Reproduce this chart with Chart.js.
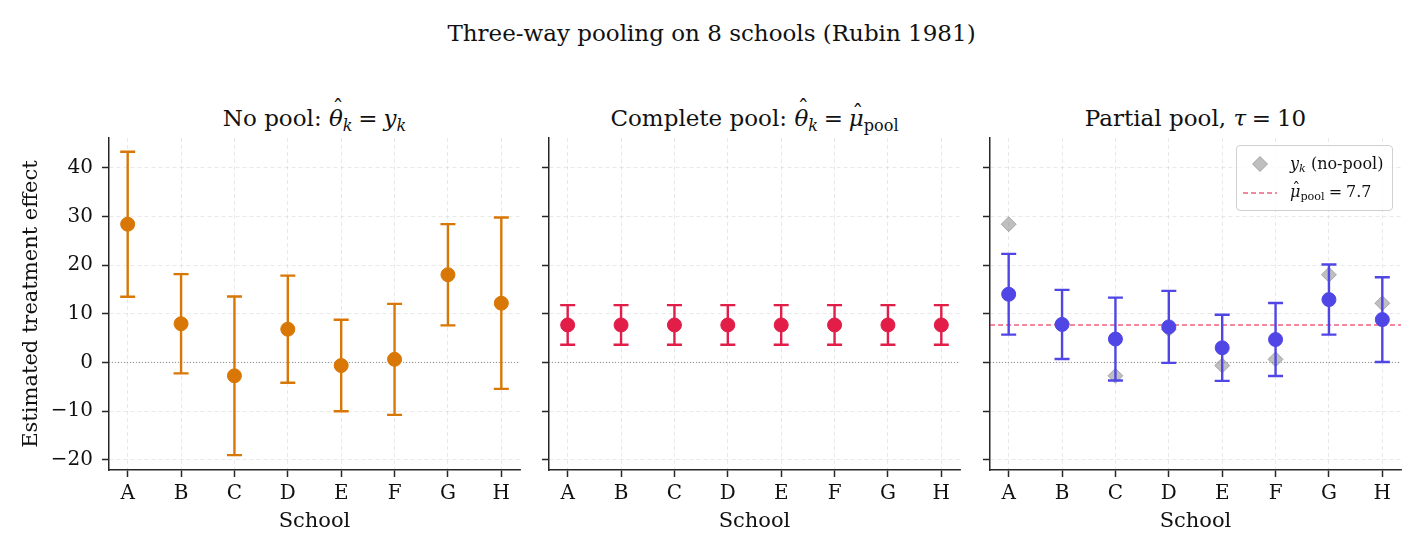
<!DOCTYPE html>
<html>
<head>
<meta charset="utf-8">
<script src="https://cdn.jsdelivr.net/npm/chart.js@4.4.1/dist/chart.umd.min.js"></script>
<style>
  body { margin: 0; background: #fff; }
  #fig { position: relative; width: 1423px; height: 554px; background: #fff; font-family: "DejaVu Serif", serif; color: #111; }
  .panel { position: absolute; top: 0; height: 554px; }
  .sup { position: absolute; left: 0; width: 1423px; top: 21px; line-height: 24px; text-align: center; font-size: 23px; }
  .ttl { position: absolute; top: 106px; line-height: 24px; text-align: center; font-size: 23px; white-space: nowrap; }
  sub { font-size: 0.7em; vertical-align: -0.3em; line-height: 0; }
  .hat { position: relative; display: inline-block; }
  .hat::after { content: "\02C6"; position: absolute; left: 0.14em; top: -0.42em; font-style: normal; }
  .hat.low::after { top: -0.2em; left: 0.14em; }
  .legend { position: absolute; left: 1236px; top: 145px; width: 155px; height: 64px; border: 1px solid #d0d0d0; border-radius: 4px; background: rgba(255,255,255,0.8); font-size: 16px; z-index: 5; }
  .legend .item { position: absolute; left: 53px; line-height: 20px; white-space: nowrap; }
  .legend .dia { position: absolute; left: 15px; top: 10px; width: 16px; height: 16px; }
  .legend .dash { position: absolute; left: 6px; top: 45px; width: 34px; height: 4px; }
</style>
</head>
<body>
<div id="fig">
  <div class="sup">Three-way pooling on 8 schools (Rubin 1981)</div>
  <div class="ttl" style="left:109px;width:411px">No pool: <i class="hat">θ</i><sub><i>k</i></sub>&#8197;=&#8197;<i>y</i><sub><i>k</i></sub></div>
  <div class="ttl" style="left:549px;width:411px">Complete pool: <i class="hat">θ</i><sub><i>k</i></sub>&#8197;=&#8197;<i class="hat low">μ</i><sub>pool</sub></div>
  <div class="ttl" style="left:990px;width:411px">Partial pool, <i>τ</i>&#8197;=&#8197;10</div>
  <div class="panel" style="left:0;width:530px"><canvas id="c1"></canvas></div>
  <div class="panel" style="left:530px;width:440px"><canvas id="c2"></canvas></div>
  <div class="panel" style="left:970px;width:441px"><canvas id="c3"></canvas></div>
  <div class="legend">
    <svg class="dia" viewBox="0 0 16 16"><path d="M8 0.5 L15.5 8 L8 15.5 L0.5 8 Z" fill="rgba(128,128,128,0.5)" stroke="rgba(128,128,128,0.6)" stroke-width="1"/></svg>
    <div class="item" style="top:8px"><i>y</i><sub><i>k</i></sub> (no-pool)</div>
    <svg class="dash" viewBox="0 0 34 4"><line x1="0" y1="2" x2="34" y2="2" stroke="rgba(225,29,72,0.7)" stroke-width="1.6" stroke-dasharray="5,3"/></svg>
    <div class="item" style="top:36px"><i class="hat low">μ</i><sub>pool</sub>&#8197;=&#8197;7.7</div>
  </div>
</div>

<script>
// eight schools data
const schools = ["A", "B", "C", "D", "E", "F", "G", "H"];
const yObs = [28.39, 7.94, -2.75, 6.82, -0.64, 0.63, 18.01, 12.16];
const sigmaObs = [14.9, 10.2, 16.3, 11.0, 9.4, 11.4, 10.4, 17.6];
const muPool = 7.69;
const muPoolSe = 4.07;
const partialMean = [14.0, 7.8, 4.8, 7.3, 3.0, 4.7, 12.9, 8.8];
const partialSe = [8.3, 7.1, 8.5, 7.4, 6.8, 7.5, 7.2, 8.7];
const yTicks = [-20, -10, 0, 10, 20, 30, 40];

const ORANGE = "#d97706";
const RED = "#e11d48";
const BLUE = "#4f46e5";

Chart.defaults.font.family = "'DejaVu Serif', serif";
Chart.defaults.color = "#111";

function pts(values) {
    return schools.map(function (s, i) {
        return { x: i, y: values[i] };
    });
}

// vertical error bars with caps, drawn just before the dataset's markers
const errorBars = {
    id: "errorBars",
    beforeDatasetDraw: function (chart, args) {
        const ds = chart.data.datasets[args.index];
        if (!ds.errors) return;
        const xs = chart.scales.x;
        const ys = chart.scales.y;
        const ctx = chart.ctx;
        ctx.save();
        ctx.strokeStyle = ds.borderColor;
        ctx.lineWidth = 2.4;
        ds.data.forEach(function (p, i) {
            const x = xs.getPixelForValue(p.x);
            const top = ys.getPixelForValue(p.y + ds.errors[i]);
            const bot = ys.getPixelForValue(p.y - ds.errors[i]);
            ctx.beginPath();
            ctx.moveTo(x, top);
            ctx.lineTo(x, bot);
            ctx.moveTo(x - 7.5, top);
            ctx.lineTo(x + 7.5, top);
            ctx.moveTo(x - 7.5, bot);
            ctx.lineTo(x + 7.5, bot);
            ctx.stroke();
        });
        ctx.restore();
    },
};

// horizontal reference lines (zero line, pooled mean)
const refLines = {
    id: "refLines",
    beforeDatasetsDraw: function (chart, args, opts) {
        const area = chart.chartArea;
        const ys = chart.scales.y;
        const ctx = chart.ctx;
        (opts.lines || []).forEach(function (l) {
            const y = ys.getPixelForValue(l.value);
            ctx.save();
            ctx.strokeStyle = l.color;
            ctx.lineWidth = l.width;
            ctx.setLineDash(l.dash);
            ctx.beginPath();
            ctx.moveTo(area.left, y);
            ctx.lineTo(area.right, y);
            ctx.stroke();
            ctx.restore();
        });
    },
};

function makePanel(id, datasets, lines, yAxisWidth, showYLabels) {
    const ctx = document.getElementById(id).getContext("2d");
    return new Chart(ctx, {
        type: "scatter",
        data: { datasets: datasets },
        options: {
            responsive: true,
            maintainAspectRatio: false,
            animation: false,
            layout: { padding: { top: 138, right: 10, bottom: 0, left: 0 } },
            plugins: {
                legend: { display: false },
                tooltip: { enabled: false },
                refLines: { lines: lines },
            },
            scales: {
                x: {
                    type: "linear",
                    min: -0.35,
                    max: 7.35,
                    afterBuildTicks: function (axis) {
                        axis.ticks = schools.map(function (s, i) { return { value: i }; });
                    },
                    afterFit: function (axis) { axis.height = 84; },
                    ticks: {
                        autoSkip: false,
                        maxRotation: 0,
                        padding: 5,
                        font: { size: 20 },
                        color: "#111",
                        callback: function (v) { return schools[v]; },
                    },
                    grid: { color: "rgba(176,176,176,0.35)", lineWidth: 0.8, tickColor: "#262626", tickLength: 7, tickWidth: 1.5 },
                    border: { color: "#262626", width: 1.5, dash: [4, 3] },
                    title: { display: true, text: "School", font: { size: 21 }, color: "#111", padding: { top: 0, bottom: 20 } },
                },
                y: {
                    min: -22.1,
                    max: 46.1,
                    afterBuildTicks: function (axis) {
                        axis.ticks = yTicks.map(function (v) { return { value: v }; });
                    },
                    afterFit: function (axis) { axis.width = yAxisWidth; },
                    ticks: {
                        display: showYLabels,
                        padding: 9,
                        font: { size: 20 },
                        color: "#111",
                        callback: function (v) { return v < 0 ? "\u2212" + Math.abs(v) : String(v); },
                    },
                    grid: { color: "rgba(176,176,176,0.35)", lineWidth: 0.8, tickColor: "#262626", tickLength: 7, tickWidth: 1.5 },
                    border: { color: "#262626", width: 1.5, dash: [4, 3] },
                    title: { display: showYLabels, text: "Estimated treatment effect", font: { size: 21 }, color: "#111", padding: { top: 19, bottom: 0 } },
                },
            },
        },
        plugins: [errorBars, refLines],
    });
}

const zeroLine = { value: 0, color: "rgba(90,90,90,0.8)", width: 0.8, dash: [1, 2] };

makePanel("c1", [
    {
        label: "No pool",
        data: pts(yObs),
        errors: sigmaObs,
        backgroundColor: ORANGE,
        borderColor: ORANGE,
        pointRadius: 7,
        borderWidth: 1,
    },
], [zeroLine], 109, true);

makePanel("c2", [
    {
        label: "Complete pool",
        data: pts(schools.map(function () { return muPool; })),
        errors: schools.map(function () { return muPoolSe; }),
        backgroundColor: RED,
        borderColor: RED,
        pointRadius: 7,
        borderWidth: 1,
    },
], [zeroLine], 19, false);

makePanel("c3", [
    {
        label: "Partial pool",
        data: pts(partialMean),
        errors: partialSe,
        backgroundColor: BLUE,
        borderColor: BLUE,
        pointRadius: 7,
        borderWidth: 1,
        order: 1,
    },
    {
        label: "y_k (no-pool)",
        data: pts(yObs),
        pointStyle: "rectRot",
        backgroundColor: "rgba(128,128,128,0.5)",
        borderColor: "rgba(128,128,128,0.55)",
        pointRadius: 7.5,
        borderWidth: 1,
        order: 2,
    },
], [zeroLine, { value: muPool, color: "rgba(225,29,72,0.7)", width: 1.4, dash: [5, 3] }], 20, false);
</script>
</body>
</html>
